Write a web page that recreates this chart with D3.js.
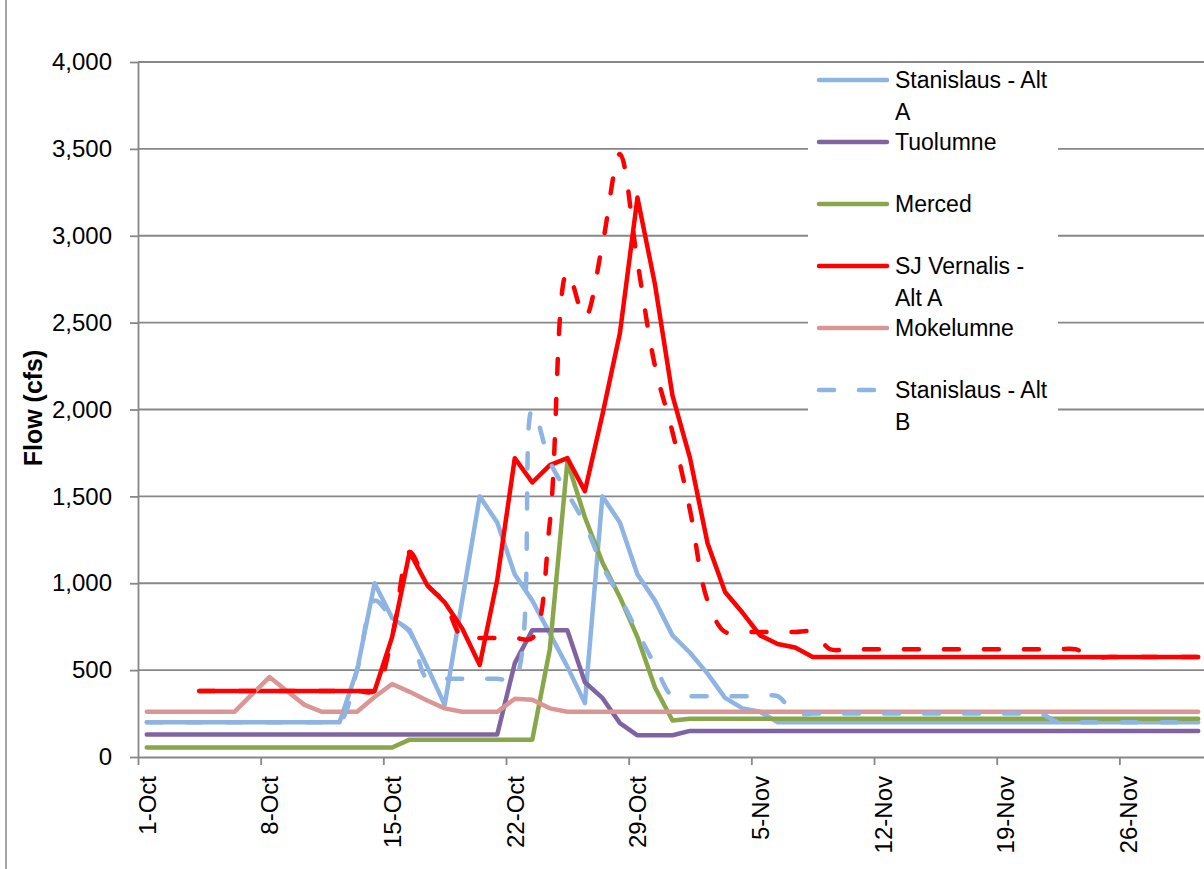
<!DOCTYPE html>
<html>
<head>
<meta charset="utf-8">
<script src="https://cdn.jsdelivr.net/npm/d3@7"></script>
<style>
  body { margin: 0; background: #fff; }
  svg { display: block; font-family: "Liberation Sans", Arial, sans-serif; }
</style>
</head>
<body>
<div id="chart"></div>
<script>
// one point per day, 1-Oct to 30-Nov
const firstDay = "1-Oct-2010";
const endDay = "1-Dec-2010";

const tickLabels = ["1-Oct", "8-Oct", "15-Oct", "22-Oct", "29-Oct", "5-Nov", "12-Nov", "19-Nov", "26-Nov"];
const yTicks = [0, 500, 1000, 1500, 2000, 2500, 3000, 3500, 4000];

const seriesNames = ["Stanislaus - Alt A", "Tuolumne", "Merced", "SJ Vernalis - Alt A", "Mokelumne", "Stanislaus - Alt B", "SJ Vernalis - Alt B"];

const stanislausAltA = [
  200, 200, 200, 200, 200, 200, 200, 200, 200, 200, 200, 200,
  500, 1000, 800, 730, 520, 300, 900, 1500, 1350, 1050, 900, 710, 520, 310,
  1500, 1350, 1050, 900, 700, 600, 480, 340, 280, 260,
  200, 200, 200, 200, 200, 200, 200, 200, 200, 200, 200, 200, 200,
  200, 200, 200, 200, 200, 200, 200, 200, 200, 200, 200, 200
];
const tuolumne = [
  130, 130, 130, 130, 130, 130, 130, 130, 130, 130, 130, 130, 130, 130, 130, 130, 130, 130, 130, 130, 130,
  540, 730, 730, 730, 430, 340, 195, 125, 125, 125,
  150, 150, 150, 150, 150, 150, 150, 150, 150, 150, 150, 150, 150, 150, 150,
  150, 150, 150, 150, 150, 150, 150, 150, 150, 150, 150, 150, 150, 150, 150
];
const merced = [
  55, 55, 55, 55, 55, 55, 55, 55, 55, 55, 55, 55, 55, 55, 55,
  100, 100, 100, 100, 100, 100, 100, 100,
  620, 1700, 1380, 1120, 920, 690, 400, 210,
  220, 220, 220, 220, 220, 220, 220, 220, 220, 220, 220, 220, 220, 220, 220,
  220, 220, 220, 220, 220, 220, 220, 220, 220, 220, 220, 220, 220, 220, 220
];
const sjVernalisAltA = [
  null, null, null,
  380, 380, 380, 380, 380, 380, 380, 380, 380, 380, 380,
  690, 1180, 990, 890, 740, 530, 1020, 1720, 1580, 1680, 1720, 1530, 1970, 2440,
  3220, 2720, 2080, 1720, 1230, 950, 830, 700, 650, 630,
  575, 575, 575, 575, 575, 575, 575, 575, 575, 575, 575, 575,
  575, 575, 575, 575, 575, 575, 575, 575, 575, 575, 575
];
const mokelumne = [
  260, 260, 260, 260, 260, 260, 360, 460, 380, 300, 260, 260, 260,
  345, 420, 375, 325, 280, 260, 260, 260, 335, 330, 280,
  260, 260, 260, 260, 260, 260, 260, 260, 260, 260, 260, 260, 260, 260, 260, 260, 260, 260, 260,
  260, 260, 260, 260, 260, 260, 260, 260, 260, 260, 260, 260, 260, 260, 260, 260, 260, 260
];
const stanislausAltB = [
  200, 200, 200, 200, 200, 200, 200, 200, 200, 200, 200, 200,
  500, 900, 800, 720,
  450, 450, 450, 450, 450, 450,
  2000, 1700, 1520, 1340, 1100, 920, 720, 530,
  350, 350, 350, 350, 350, 350, 350,
  250, 250, 250, 250, 250, 250, 250, 250, 250, 250, 250, 250, 250, 250, 250,
  200, 200, 200, 200, 200, 200, 200, 200, 200
];
const sjVernalisAltB = [
  null, null, null,
  380, 380, 380, 380, 380, 380, 380, 380, 380, 380, 380,
  690, 1180, 990, 890, 690,
  685, 685, 685, 685,
  1350, 2790, 2530, 2950, 3470, 2850, 2250, 1870, 1420, 900,
  720, 720, 720, 720, 720, 720,
  620, 620, 620, 620, 620, 620, 620, 620, 620, 620, 620, 620, 620, 620, 620,
  575, 575, 575, 575, 575, 575, 575
];

const parseDay = d3.utcParse("%d-%b-%Y");
const days = d3.utcDay.range(parseDay(firstDay), parseDay(endDay));
const tickDates = tickLabels.map(t => parseDay(t + "-2010"));

const series = [
  { name: seriesNames[0], values: stanislausAltA, color: "#8EB4E3", dashed: false },
  { name: seriesNames[1], values: tuolumne, color: "#8064A2", dashed: false },
  { name: seriesNames[2], values: merced, color: "#88A74B", dashed: false },
  { name: seriesNames[3], values: sjVernalisAltA, color: "#FF0000", dashed: false },
  { name: seriesNames[4], values: mokelumne, color: "#D99694", dashed: false },
  { name: seriesNames[5], values: stanislausAltB, color: "#8EB4E3", dashed: true },
  { name: seriesNames[6], values: sjVernalisAltB, color: "#FF0000", dashed: true }
];

const margin = { top: 62, right: -3, bottom: 112, left: 138 };
const width = 1204 - margin.left - margin.right;
const height = 869 - margin.top - margin.bottom;
const gridColor = "#878787";
const dash = "15,25";

const svg = d3.select("#chart")
  .append("svg")
  .attr("width", 1204)
  .attr("height", 869);

// chart border (only the left edge is inside the picture)
svg.append("line")
  .attr("x1", 6).attr("x2", 6).attr("y1", 0).attr("y2", 869)
  .attr("stroke", gridColor).attr("stroke-width", 1.5);

const g = svg.append("g")
  .attr("transform", "translate(" + margin.left + "," + margin.top + ")");

const x = d3.scaleUtc().domain([parseDay(firstDay), parseDay(endDay)]).range([0, width]);
const y = d3.scaleLinear().domain([0, 4000]).range([height, 0]);
const mid = d => x(d3.utcHour.offset(d, 12));

// gridlines
g.append("g")
  .selectAll("line")
  .data(yTicks.filter(v => v > 0))
  .join("line")
  .attr("x1", 0).attr("x2", width)
  .attr("y1", d => y(d)).attr("y2", d => y(d))
  .attr("stroke", gridColor).attr("stroke-width", 1.8);

// Y axis
const yAxis = g.append("g")
  .call(d3.axisLeft(y).tickValues(yTicks).tickSize(8).tickSizeOuter(0).tickPadding(18).tickFormat(d3.format(",")));
yAxis.selectAll("text").attr("font-size", 24).attr("fill", "#000").attr("font-family", "Liberation Sans, Arial, sans-serif");

// X axis
const xAxis = g.append("g")
  .attr("transform", "translate(0," + height + ")")
  .call(d3.axisBottom(x).tickValues(tickDates).tickSize(8).tickSizeOuter(0).tickFormat((d, i) => tickLabels[i]));
xAxis.selectAll(".tick text")
  .attr("font-size", 24).attr("fill", "#000").attr("font-family", "Liberation Sans, Arial, sans-serif")
  .attr("text-anchor", "end")
  .attr("y", 0).attr("dy", "0.35em")
  .attr("transform", d => "translate(" + (mid(d) - x(d)) + ",19) rotate(-90)");

[yAxis, xAxis].forEach(a => {
  a.selectAll("path, line").attr("stroke", gridColor).attr("stroke-width", 1.8);
});

// Y axis title
svg.append("text")
  .attr("transform", "translate(33,408) rotate(-90)")
  .attr("text-anchor", "middle")
  .attr("dy", "0.35em")
  .attr("font-size", 25)
  .attr("font-weight", "bold")
  .text("Flow (cfs)");

// series lines
series.forEach(s => {
  const line = d3.line()
    .defined(v => v != null)
    .x((v, i) => mid(days[i]))
    .y(v => y(v))
    .curve(s.dashed ? d3.curveCatmullRom.alpha(0.5) : d3.curveLinear);

  g.append("path")
    .datum(s.values)
    .attr("fill", "none")
    .attr("stroke", s.color)
    .attr("stroke-width", 4.5)
    .attr("stroke-linejoin", "round")
    .attr("stroke-linecap", "round")
    .attr("stroke-dasharray", s.dashed ? dash : null)
    .attr("d", line);
});

// legend (box is cut off at the bottom, as in the source)
svg.append("clipPath").attr("id", "legendClip")
  .append("rect").attr("x", 808).attr("y", 64).attr("width", 250).attr("height", 376);

const legend = svg.append("g").attr("clip-path", "url(#legendClip)");
legend.append("rect")
  .attr("x", 808).attr("y", 64).attr("width", 250).attr("height", 376)
  .attr("fill", "#fff");

function wrapLabel(label, maxWidth) {
  const probe = svg.append("text").attr("font-size", 23);
  const words = label.split(" ");
  const lines = [];
  let current = words[0];
  for (let i = 1; i < words.length; i++) {
    probe.text(current + " " + words[i]);
    if (probe.node().getComputedTextLength() > maxWidth) {
      lines.push(current);
      current = words[i];
    } else {
      current = current + " " + words[i];
    }
  }
  lines.push(current);
  probe.remove();
  return lines;
}

series.forEach((s, i) => {
  const cy = 80 + i * 62;
  legend.append("line")
    .attr("x1", 819).attr("x2", 887).attr("y1", cy).attr("y2", cy)
    .attr("stroke", s.color)
    .attr("stroke-width", 4.5)
    .attr("stroke-linecap", "round")
    .attr("stroke-dasharray", s.dashed ? dash : null);

  const text = legend.append("text")
    .attr("x", 895).attr("y", cy + 8)
    .attr("font-size", 23)
    .attr("fill", "#000");
  wrapLabel(s.name, 160).forEach((ln, j) => {
    text.append("tspan").attr("x", 895).attr("dy", j === 0 ? 0 : 32).text(ln);
  });
});
</script>
</body>
</html>
